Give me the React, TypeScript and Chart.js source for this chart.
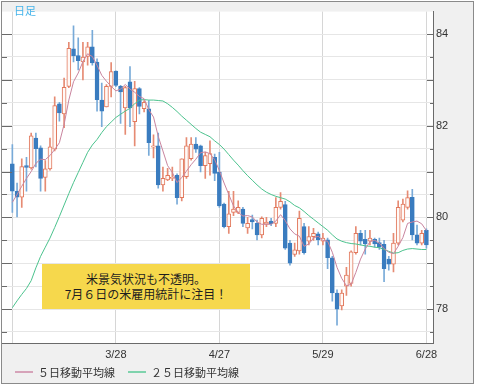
import React, { useEffect, useRef } from 'react';
import { Chart, registerables } from 'chart.js';

Chart.register(...registerables);

// ---- data (AUD/JPY daily, 2/26 .. 6/28) ----
const opens = [
  81.17, 80.57, 80.44, 81.13, 81.08, 81.73, 81.52, 80.87, 81.06, 81.49,
  82.48, 82.26, 82.86, 83.68, 83.53, 83.39, 83.51, 83.72, 83.39, 82.56,
  82.41, 82.86, 83.19, 82.86, 82.39, 82.96, 82.09, 82.81, 82.37, 82.37,
  81.53, 81.56, 80.71, 80.82, 80.85, 80.92, 80.43, 80.89, 81.28, 81.60,
  81.56, 81.13, 81.17, 81.31, 80.99, 80.29, 79.80, 80.11, 80.11, 80.18,
  79.77, 79.95, 79.87, 79.62, 79.85, 79.92, 79.87, 80.22, 80.28, 79.44,
  79.19, 79.27, 79.80, 79.48, 79.58, 79.64, 79.48, 79.51, 79.12, 78.35,
  78.07, 78.50, 78.56, 79.23, 79.65, 79.52, 79.48, 79.52, 79.45, 79.41,
  79.09, 78.98, 79.44, 79.94, 80.22, 80.44, 79.62, 79.44, 79.72,
];
const highs = [
  81.59, 80.75, 81.28, 81.31, 81.84, 81.84, 81.56, 81.24, 81.73, 82.63,
  82.51, 83.04, 83.82, 84.18, 83.92, 83.82, 83.82, 84.08, 83.46, 82.93,
  82.90, 83.38, 83.20, 82.88, 82.86, 83.29, 82.97, 82.83, 82.55, 82.55,
  81.80, 81.84, 81.10, 81.07, 81.10, 80.95, 81.28, 81.74, 81.74, 81.74,
  81.58, 81.42, 81.67, 81.38, 81.42, 80.31, 80.57, 80.57, 80.36, 80.22,
  80.00, 80.05, 79.94, 80.01, 80.00, 79.98, 80.43, 80.54, 80.35, 79.50,
  79.44, 80.14, 79.87, 79.80, 79.76, 79.68, 79.65, 79.55, 79.15, 78.42,
  78.42, 78.91, 79.27, 79.80, 79.72, 79.72, 79.72, 79.55, 79.55, 79.50,
  79.15, 79.65, 80.36, 80.40, 80.58, 80.61, 79.83, 79.72, 79.75,
];
const lows = [
  80.11, 80.01, 80.22, 80.57, 81.05, 81.10, 80.57, 80.57, 81.03, 81.45,
  82.10, 81.96, 82.83, 83.39, 83.22, 83.00, 83.32, 83.32, 82.32, 81.98,
  82.41, 82.63, 82.85, 82.05, 81.81, 81.98, 81.56, 82.26, 82.30, 81.35,
  81.30, 80.64, 80.57, 80.80, 80.80, 80.29, 80.36, 80.85, 81.25, 81.42,
  80.99, 80.85, 80.92, 80.80, 80.22, 79.77, 79.65, 80.04, 80.08, 79.80,
  79.65, 79.75, 79.51, 79.55, 79.80, 79.82, 79.80, 80.18, 79.30, 78.96,
  79.15, 79.20, 79.20, 79.40, 79.50, 79.40, 79.40, 78.88, 78.17, 77.65,
  77.98, 78.30, 78.50, 79.20, 79.40, 79.20, 79.40, 79.35, 79.30, 78.60,
  78.85, 78.81, 79.40, 79.90, 80.18, 79.51, 79.40, 79.40, 79.33,
];
const closes = [
  80.57, 80.44, 81.11, 81.09, 81.78, 81.50, 80.85, 81.06, 81.54, 82.44,
  82.28, 82.84, 83.69, 83.53, 83.42, 83.50, 83.72, 83.37, 82.57, 82.32,
  82.86, 83.18, 82.88, 82.74, 82.83, 82.39, 82.81, 82.42, 82.51, 81.63,
  81.56, 80.71, 80.85, 80.92, 80.87, 80.43, 81.28, 81.56, 81.60, 81.49,
  81.13, 81.35, 81.39, 80.96, 80.25, 79.80, 80.08, 80.18, 80.22, 79.87,
  79.87, 79.90, 79.62, 79.98, 79.90, 79.86, 80.22, 80.35, 79.33, 79.00,
  79.29, 79.98, 79.23, 79.58, 79.65, 79.51, 79.55, 79.12, 78.35, 78.00,
  78.35, 78.74, 79.25, 79.65, 79.48, 79.42, 79.55, 79.42, 79.35, 78.88,
  78.98, 79.44, 80.22, 80.29, 80.43, 79.62, 79.44, 79.65, 79.40,
];
const ma5 = [
  80.33, 80.50, 80.68, 80.85, 81.00, 81.18, 81.27, 81.26, 81.35, 81.48,
  81.63, 82.03, 82.56, 82.96, 83.15, 83.40, 83.57, 83.51, 83.32, 83.10,
  82.97, 82.86, 82.76, 82.80, 82.90, 82.80, 82.73, 82.64, 82.59, 82.35,
  82.19, 81.77, 81.45, 81.13, 80.98, 80.76, 80.87, 81.01, 81.15, 81.27,
  81.41, 81.43, 81.39, 81.26, 81.02, 80.75, 80.50, 80.25, 80.11, 80.03,
  80.04, 80.01, 79.90, 79.85, 79.85, 79.85, 79.92, 80.06, 79.93, 79.75,
  79.64, 79.59, 79.37, 79.42, 79.55, 79.59, 79.50, 79.48, 79.24, 78.91,
  78.67, 78.51, 78.54, 78.80, 79.09, 79.31, 79.47, 79.50, 79.44, 79.32,
  79.24, 79.21, 79.37, 79.56, 79.87, 79.90, 79.92, 79.86, 79.71,
];
const ma25 = [
  78.03, 78.18, 78.32, 78.45, 78.62, 78.90, 79.15, 79.35, 79.55, 79.78,
  80.02, 80.27, 80.52, 80.76, 80.98, 81.20, 81.42, 81.58, 81.70, 81.85,
  81.98, 82.08, 82.18, 82.25, 82.32, 82.38, 82.48, 82.56, 82.57, 82.56,
  82.56, 82.55, 82.54, 82.48, 82.40, 82.31, 82.21, 82.12, 82.03, 81.94,
  81.86, 81.81, 81.76, 81.67, 81.59, 81.49, 81.37, 81.25, 81.14, 81.02,
  80.91, 80.81, 80.71, 80.62, 80.55, 80.50, 80.46, 80.43, 80.40, 80.34,
  80.26, 80.21, 80.13, 80.04, 79.96, 79.88, 79.80, 79.72, 79.62, 79.53,
  79.48, 79.45, 79.43, 79.42, 79.40, 79.38, 79.37, 79.35, 79.34, 79.30,
  79.26, 79.22, 79.23, 79.28, 79.31, 79.32, 79.31, 79.30, 79.30,
];
const xTickIdx = [0, 22, 44, 66, 88];
const xTickLabels = ['', '3/28', '4/27', '5/29', '6/28'];
const yTickValues = [77.5, 78, 78.5, 79, 79.5, 80, 80.5, 81, 81.5, 82, 82.5, 83, 83.5, 84];
const yLabelValues = [78, 80, 82, 84];
const seriesNames = ['５日移動平均線', '２５日移動平均線'];
const noteLines = ['米景気状況も不透明。', '7月６日の米雇用統計に注目！'];
const periodLabel = '日足';

// ---- styles ----
const UP_BORDER = '#e2785c';
const UP_WICK = '#e68b73';
const UP_FILL = '#fff9f6';
const DN_BODY = '#3a7cbf';
const DN_WICK = '#78aad8';
const MA5_COLOR = '#c9859f';
const MA25_COLOR = '#4cc38e';
const JP_FONT = '"Noto Sans CJK JP", "Noto Sans", sans-serif';

const chartBg = {
  id: 'chartBg',
  beforeDraw(chart: any) {
    const { ctx, chartArea } = chart;
    ctx.save();
    ctx.fillStyle = '#ffffff';
    ctx.fillRect(chartArea.left, chartArea.top, chartArea.right - chartArea.left, chartArea.bottom - chartArea.top);
    ctx.restore();
  },
};

const tickMarks = {
  id: 'tickMarks',
  afterDraw(chart: any) {
    const { ctx, chartArea } = chart;
    const y = chart.scales.y;
    ctx.save();
    ctx.strokeStyle = '#6a6a6a';
    ctx.lineWidth = 1;
    y.ticks.forEach((t: any) => {
      const py = Math.round(y.getPixelForValue(t.value)) + 0.5;
      const major = Number.isInteger(t.value);
      ctx.beginPath();
      ctx.moveTo(chartArea.left, py);
      ctx.lineTo(chartArea.left + (major ? 10 : 5), py);
      ctx.moveTo(chartArea.right - (major ? 6 : 3), py);
      ctx.lineTo(chartArea.right, py);
      ctx.stroke();
    });
    ctx.restore();
  },
};

export default function App() {
  const canvasRef = useRef<HTMLCanvasElement | null>(null);

  useEffect(() => {
    const canvas = canvasRef.current;
    if (!canvas) return;
    const idx = opens.map((_, i) => i);
    const up = opens.map((o, i) => closes[i] >= o);

    const chart = new Chart(canvas, {
      type: 'bar',
      data: {
        datasets: [
          {
            type: 'line',
            label: seriesNames[0],
            data: idx.map((i) => ({ x: i, y: ma5[i] })),
            borderColor: MA5_COLOR,
            borderWidth: 1,
            pointRadius: 0,
            tension: 0,
            order: 0,
          } as any,
          {
            type: 'line',
            label: seriesNames[1],
            data: idx.map((i) => ({ x: i, y: ma25[i] })),
            borderColor: MA25_COLOR,
            borderWidth: 1,
            pointRadius: 0,
            tension: 0,
            order: 0,
          } as any,
          {
            type: 'bar',
            label: 'body',
            data: idx.map((i) => ({ x: i, y: [opens[i], closes[i]] })),
            backgroundColor: up.map((u) => (u ? UP_FILL : DN_BODY)),
            borderColor: up.map((u) => (u ? UP_BORDER : DN_BODY)),
            borderWidth: 1,
            borderSkipped: false,
            barThickness: 4,
            minBarLength: 1,
            grouped: false,
            order: 2,
          } as any,
          {
            type: 'bar',
            label: 'wick',
            data: idx.map((i) => ({ x: i, y: [lows[i], highs[i]] })),
            backgroundColor: up.map((u) => (u ? UP_WICK : DN_WICK)),
            borderWidth: 0,
            barThickness: 1,
            grouped: false,
            order: 3,
          } as any,
        ],
      },
      options: {
        responsive: false,
        animation: false,
        layout: { padding: 0 },
        plugins: {
          legend: { display: false },
          tooltip: { enabled: false },
        },
        scales: {
          x: {
            type: 'linear',
            min: -2.2,
            max: 89.4,
            offset: false,
            grid: { offset: false, color: '#d6d6d6', drawTicks: false },
            border: { color: '#6a6a6a' },
            afterBuildTicks: (scale: any) => {
              scale.ticks = xTickIdx.map((v) => ({ value: v }));
            },
            afterFit: (scale: any) => {
              scale.height = 40;
            },
            ticks: {
              autoSkip: false,
              maxRotation: 0,
              padding: 5,
              color: '#333333',
              font: { family: '"Liberation Sans", Arial, sans-serif', size: 11 },
              callback: (value: any) => {
                const k = xTickIdx.indexOf(Number(value));
                return k >= 0 ? xTickLabels[k] : '';
              },
            },
          },
          y: {
            type: 'linear',
            position: 'right',
            min: 77.26,
            max: 84.49,
            grid: { color: '#e6e6e6', drawTicks: false },
            border: { color: '#6a6a6a' },
            afterBuildTicks: (scale: any) => {
              scale.ticks = yTickValues.map((v) => ({ value: v }));
            },
            afterFit: (scale: any) => {
              scale.width = 40;
            },
            ticks: {
              autoSkip: false,
              padding: 3,
              color: '#333333',
              font: { family: '"Liberation Sans", Arial, sans-serif', size: 11 },
              callback: (value: any) => (yLabelValues.includes(Number(value)) ? String(value) : ''),
            },
          },
        },
      },
      plugins: [chartBg, tickMarks],
    } as any);

    return () => chart.destroy();
  }, []);

  return (
    <>
      <div
        style={{
          position: 'absolute',
          left: 1,
          top: 1,
          width: 471,
          height: 381,
          border: '1px solid #8a8a8a',
          background: '#f0f0f0',
        }}
      >
        <canvas ref={canvasRef} width={471} height={381} style={{ display: 'block' }} />
      </div>
      <div
        style={{
          position: 'absolute',
          left: 14,
          top: 3,
          fontFamily: JP_FONT,
          fontSize: 11,
          lineHeight: '14px',
          color: '#46b4ea',
        }}
      >
        {periodLabel}
      </div>
      <div
        style={{
          position: 'absolute',
          left: 42,
          top: 264,
          width: 208,
          height: 45,
          background: '#f6d84c',
          display: 'flex',
          flexDirection: 'column',
          alignItems: 'center',
          justifyContent: 'center',
          fontFamily: JP_FONT,
          fontSize: 12,
          lineHeight: '14.5px',
          color: '#1e1e1e',
        }}
      >
        {noteLines.map((t) => (
          <div key={t}>{t}</div>
        ))}
      </div>
      {[
        { x: 15, tx: 38, color: '#d6a3b9', text: seriesNames[0] },
        { x: 128, tx: 151, color: '#7fd3ad', text: seriesNames[1] },
      ].map((it) => (
        <React.Fragment key={it.text}>
          <div
            style={{
              position: 'absolute',
              left: it.x,
              top: 371,
              width: 18,
              height: 2,
              background: it.color,
            }}
          />
          <div
            style={{
              position: 'absolute',
              left: it.tx,
              top: 364,
              fontFamily: JP_FONT,
              fontSize: 11,
              lineHeight: '16px',
              color: '#333333',
              whiteSpace: 'nowrap',
            }}
          >
            {it.text}
          </div>
        </React.Fragment>
      ))}
    </>
  );
}
